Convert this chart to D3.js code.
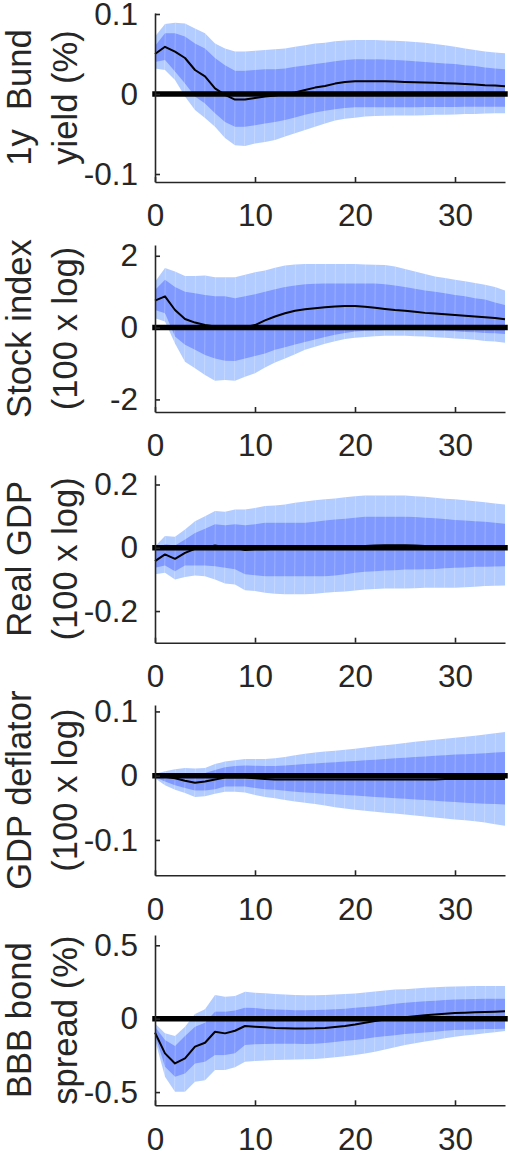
<!DOCTYPE html>
<html>
<head>
<meta charset="utf-8">
<script src="https://cdn.jsdelivr.net/npm/d3@7"></script>
<style>
  html, body { margin: 0; padding: 0; background: #ffffff; }
  svg { display: block; }
  text { font-family: "Liberation Sans", Arial, Helvetica, sans-serif; }
</style>
</head>
<body>
<svg id="chart" width="508" height="1155"></svg>
<script>
// Impulse responses: horizons 0..35, posterior median with 68% (inner) and 90% (outer) bands
const horizon = d3.range(0, 36);
const xTicks = [0, 10, 20, 30];

// 1y Bund yield (%)
const bundMedian = [0.050,0.059,0.053,0.045,0.030,0.022,0.007,-0.001,-0.007,-0.007,-0.005,-0.003,-0.002,0.000,0.002,0.005,0.008,0.010,0.013,0.015,0.016,0.016,0.016,0.016,0.0155,0.015,0.0147,0.0143,0.014,0.0135,0.013,0.0125,0.012,0.011,0.0105,0.0097];
const bundOuterHi = [0.072,0.0875,0.089,0.088,0.082,0.076,0.063,0.057,0.053,0.053,0.054,0.055,0.056,0.057,0.059,0.061,0.063,0.064,0.066,0.067,0.0675,0.0675,0.0675,0.067,0.0667,0.066,0.065,0.064,0.0625,0.061,0.059,0.057,0.055,0.053,0.052,0.051];
const bundInnerHi = [0.060,0.076,0.076,0.072,0.063,0.057,0.045,0.036,0.029,0.029,0.030,0.031,0.031,0.032,0.034,0.0355,0.0375,0.039,0.041,0.0425,0.0433,0.0433,0.0433,0.043,0.0425,0.042,0.041,0.040,0.039,0.038,0.0375,0.036,0.035,0.033,0.032,0.031];
const bundInnerLo = [0.040,0.0425,0.028,0.013,-0.003,-0.012,-0.024,-0.035,-0.041,-0.041,-0.039,-0.037,-0.035,-0.0325,-0.0295,-0.026,-0.023,-0.021,-0.019,-0.0175,-0.0167,-0.0165,-0.0165,-0.0165,-0.0165,-0.0165,-0.0165,-0.0163,-0.0163,-0.0162,-0.0162,-0.016,-0.016,-0.016,-0.016,-0.016];
const bundOuterLo = [0.032,0.030,0.0175,-0.003,-0.020,-0.030,-0.041,-0.055,-0.064,-0.065,-0.062,-0.060,-0.0575,-0.053,-0.049,-0.045,-0.041,-0.037,-0.033,-0.031,-0.0296,-0.028,-0.0275,-0.0273,-0.027,-0.027,-0.0268,-0.0265,-0.026,-0.026,-0.0255,-0.025,-0.025,-0.0245,-0.024,-0.024];
const bundTicks = [-0.1, 0, 0.1];
const bundTickLabels = ["-0.1", "0", "0.1"];
const bundTitle = ["1y  Bund", "yield (%)"];

// Stock index (100 x log)
const stockMedian = [0.75,0.87,0.49,0.24,0.14,0.07,0.03,0.01,0.00,0.01,0.07,0.20,0.31,0.40,0.47,0.51,0.54,0.57,0.59,0.60,0.60,0.58,0.55,0.52,0.49,0.47,0.44,0.41,0.39,0.37,0.35,0.33,0.31,0.29,0.27,0.23];
const stockOuterHi = [1.28,1.66,1.56,1.44,1.44,1.45,1.40,1.40,1.40,1.47,1.54,1.59,1.67,1.73,1.76,1.77,1.77,1.77,1.77,1.77,1.77,1.76,1.75,1.74,1.70,1.63,1.56,1.49,1.42,1.38,1.33,1.29,1.24,1.19,1.13,1.03];
const stockInnerHi = [1.05,1.33,1.13,1.00,0.96,0.91,0.87,0.87,0.82,0.87,0.93,1.00,1.07,1.13,1.17,1.21,1.22,1.23,1.23,1.23,1.23,1.23,1.23,1.21,1.17,1.13,1.08,1.03,1.00,0.96,0.91,0.87,0.82,0.78,0.70,0.63];
const stockInnerLo = [0.49,0.40,-0.25,-0.48,-0.62,-0.76,-0.86,-0.92,-0.93,-0.86,-0.79,-0.72,-0.62,-0.55,-0.47,-0.40,-0.33,-0.26,-0.20,-0.15,-0.11,-0.09,-0.08,-0.07,-0.065,-0.065,-0.065,-0.07,-0.08,-0.09,-0.10,-0.12,-0.13,-0.15,-0.16,-0.18];
const stockOuterLo = [0.26,0.17,-0.44,-0.95,-1.13,-1.32,-1.48,-1.46,-1.48,-1.37,-1.27,-1.11,-0.97,-0.86,-0.74,-0.62,-0.53,-0.45,-0.38,-0.32,-0.28,-0.26,-0.24,-0.23,-0.23,-0.23,-0.24,-0.25,-0.27,-0.28,-0.30,-0.32,-0.34,-0.37,-0.39,-0.42];
const stockTicks = [-2, 0, 2];
const stockTickLabels = ["-2", "0", "2"];
const stockTitle = ["Stock index", "(100 x log)"];

// Real GDP (100 x log)
const gdpMedian = [-0.042,-0.021,-0.035,-0.016,-0.003,0.000,0.007,0.002,0.000,-0.007,-0.005,-0.005,-0.003,-0.003,-0.003,-0.003,-0.003,-0.003,-0.003,0.000,0.003,0.006,0.007,0.008,0.008,0.008,0.007,0.006,0.005,0.004,0.004,0.003,0.003,0.003,0.002,0.002];
const gdpOuterHi = [0.005,0.037,0.035,0.058,0.084,0.100,0.116,0.114,0.121,0.121,0.126,0.132,0.134,0.137,0.142,0.146,0.150,0.153,0.156,0.160,0.163,0.165,0.165,0.165,0.165,0.165,0.163,0.161,0.158,0.155,0.153,0.150,0.147,0.144,0.140,0.137];
const gdpInnerHi = [-0.011,0.011,0.007,0.026,0.047,0.060,0.074,0.071,0.074,0.071,0.074,0.079,0.079,0.079,0.079,0.079,0.082,0.086,0.089,0.092,0.095,0.098,0.098,0.098,0.098,0.098,0.097,0.095,0.093,0.091,0.088,0.086,0.084,0.082,0.079,0.076];
const gdpInnerLo = [-0.063,-0.056,-0.074,-0.056,-0.056,-0.056,-0.058,-0.063,-0.068,-0.084,-0.087,-0.090,-0.090,-0.090,-0.090,-0.090,-0.090,-0.090,-0.088,-0.084,-0.079,-0.076,-0.074,-0.072,-0.071,-0.069,-0.069,-0.068,-0.067,-0.065,-0.063,-0.062,-0.060,-0.060,-0.059,-0.058];
const gdpOuterLo = [-0.084,-0.079,-0.100,-0.092,-0.088,-0.090,-0.100,-0.113,-0.116,-0.134,-0.137,-0.142,-0.145,-0.147,-0.147,-0.147,-0.145,-0.142,-0.140,-0.138,-0.135,-0.132,-0.130,-0.129,-0.129,-0.129,-0.128,-0.126,-0.126,-0.126,-0.126,-0.125,-0.123,-0.121,-0.120,-0.119];
const gdpTicks = [-0.2, 0, 0.2];
const gdpTickLabels = ["-0.2", "0", "0.2"];
const gdpTitle = ["Real GDP", "(100 x log)"];

// GDP deflator (100 x log)
const deflMedian = [0.000,-0.0015,-0.004,-0.008,-0.011,-0.009,-0.006,-0.003,-0.003,-0.003,-0.004,-0.005,-0.006,-0.006,-0.006,-0.006,-0.006,-0.006,-0.006,-0.006,-0.006,-0.006,-0.006,-0.006,-0.006,-0.006,-0.006,-0.006,-0.006,-0.005,-0.005,-0.005,-0.005,-0.005,-0.005,-0.005];
const deflOuterHi = [0.003,0.007,0.010,0.012,0.011,0.012,0.018,0.022,0.024,0.026,0.026,0.026,0.027,0.029,0.032,0.034,0.036,0.0375,0.039,0.0405,0.042,0.044,0.046,0.0475,0.049,0.051,0.053,0.0545,0.056,0.0575,0.059,0.0605,0.062,0.064,0.066,0.068];
const deflInnerHi = [0.000,0.0015,0.0025,0.004,0.004,0.004,0.009,0.013,0.015,0.016,0.0155,0.015,0.015,0.016,0.017,0.018,0.019,0.020,0.021,0.022,0.023,0.024,0.025,0.026,0.027,0.028,0.029,0.030,0.031,0.032,0.033,0.0335,0.034,0.035,0.036,0.037];
const deflInnerLo = [-0.0025,-0.009,-0.015,-0.019,-0.023,-0.023,-0.021,-0.017,-0.017,-0.017,-0.019,-0.021,-0.022,-0.0235,-0.025,-0.026,-0.027,-0.028,-0.029,-0.030,-0.031,-0.032,-0.033,-0.034,-0.035,-0.036,-0.037,-0.038,-0.039,-0.040,-0.041,-0.042,-0.043,-0.0435,-0.044,-0.045];
const deflOuterLo = [-0.004,-0.015,-0.022,-0.027,-0.033,-0.032,-0.028,-0.025,-0.025,-0.026,-0.030,-0.033,-0.035,-0.038,-0.040,-0.042,-0.044,-0.0465,-0.049,-0.051,-0.053,-0.0545,-0.056,-0.0575,-0.059,-0.0605,-0.062,-0.0635,-0.065,-0.0665,-0.068,-0.0695,-0.071,-0.073,-0.0755,-0.078];
const deflTicks = [-0.1, 0, 0.1];
const deflTickLabels = ["-0.1", "0", "0.1"];
const deflTitle = ["GDP deflator", "(100 x log)"];

// BBB bond spread (%)
const spreadMedian = [-0.095,-0.236,-0.305,-0.270,-0.190,-0.164,-0.089,-0.100,-0.082,-0.050,-0.055,-0.059,-0.064,-0.066,-0.067,-0.067,-0.066,-0.063,-0.057,-0.050,-0.040,-0.028,-0.016,-0.006,0.002,0.009,0.016,0.023,0.029,0.034,0.038,0.041,0.043,0.046,0.048,0.050];
const spreadOuterHi = [-0.032,-0.100,-0.118,-0.055,0.032,0.064,0.161,0.150,0.155,0.184,0.177,0.173,0.168,0.164,0.161,0.160,0.160,0.161,0.164,0.168,0.172,0.179,0.186,0.192,0.198,0.200,0.205,0.210,0.214,0.217,0.220,0.221,0.222,0.222,0.222,0.222];
const spreadInnerHi = [-0.055,-0.145,-0.186,-0.118,-0.055,-0.027,0.048,0.048,0.055,0.075,0.072,0.066,0.063,0.060,0.058,0.058,0.059,0.061,0.064,0.068,0.075,0.080,0.085,0.093,0.101,0.109,0.114,0.118,0.122,0.127,0.131,0.133,0.134,0.135,0.136,0.136];
const spreadInnerLo = [-0.111,-0.327,-0.395,-0.373,-0.305,-0.293,-0.248,-0.248,-0.236,-0.180,-0.175,-0.173,-0.170,-0.170,-0.171,-0.172,-0.170,-0.165,-0.158,-0.151,-0.145,-0.136,-0.127,-0.119,-0.112,-0.105,-0.099,-0.094,-0.089,-0.083,-0.077,-0.075,-0.073,-0.071,-0.070,-0.068];
const spreadOuterLo = [-0.145,-0.395,-0.498,-0.498,-0.430,-0.420,-0.350,-0.350,-0.330,-0.293,-0.289,-0.285,-0.282,-0.280,-0.278,-0.277,-0.274,-0.270,-0.263,-0.256,-0.248,-0.237,-0.225,-0.210,-0.195,-0.180,-0.168,-0.156,-0.145,-0.134,-0.123,-0.115,-0.108,-0.100,-0.092,-0.084];
const spreadTicks = [-0.5, 0, 0.5];
const spreadTickLabels = ["-0.5", "0", "0.5"];
const spreadTitle = ["BBB bond", "spread (%)"];

// Panel assembly
const panels = [
  { title: bundTitle,   ticks: bundTicks,   tickLabels: bundTickLabels,   yDomain: [-0.11, 0.10125], med: bundMedian,   oHi: bundOuterHi,   iHi: bundInnerHi,   iLo: bundInnerLo,   oLo: bundOuterLo,   top: 13,  bottom: 182 },
  { title: stockTitle,  ticks: stockTicks,  tickLabels: stockTickLabels,  yDomain: [-2.35, 2.3],     med: stockMedian,  oHi: stockOuterHi,  iHi: stockInnerHi,  iLo: stockInnerLo,  oLo: stockOuterLo,  top: 245, bottom: 412 },
  { title: gdpTitle,    ticks: gdpTicks,    tickLabels: gdpTickLabels,    yDomain: [-0.3, 0.23],      med: gdpMedian,    oHi: gdpOuterHi,    iHi: gdpInnerHi,    iLo: gdpInnerLo,    oLo: gdpOuterLo,    top: 475, bottom: 642.7 },
  { title: deflTitle,   ticks: deflTicks,   tickLabels: deflTickLabels,   yDomain: [-0.155, 0.11],    med: deflMedian,   oHi: deflOuterHi,   iHi: deflInnerHi,   iLo: deflInnerLo,   oLo: deflOuterLo,   top: 705, bottom: 875.3 },
  { title: spreadTitle, ticks: spreadTicks, tickLabels: spreadTickLabels, yDomain: [-0.59, 0.57],     med: spreadMedian, oHi: spreadOuterHi, iHi: spreadInnerHi, iLo: spreadInnerLo, oLo: spreadOuterLo, top: 935, bottom: 1105.3 }
];

const axisColor = "#262626";
const outerColor = "rgb(179,204,255)";
const innerColor = "rgb(128,153,255)";
const tickFont = 31.5;
const titleFont = 34.6;
const left = 155, right = 505;

const svg = d3.select("#chart");
const x = d3.scaleLinear().domain([0, 35]).range([left, right]);

panels.forEach(p => {
  const y = d3.scaleLinear().domain(p.yDomain).range([p.bottom, p.top]);
  const g = svg.append("g");

  // bands drawn one horizon step at a time
  const steps = d3.range(0, horizon.length - 1);
  const band = (lo, hi) => d3.area()
    .x(i => x(horizon[i]))
    .y0(i => y(lo[i]))
    .y1(i => y(hi[i]));

  const outerArea = band(p.oLo, p.oHi);
  const innerArea = band(p.iLo, p.iHi);

  g.append("g").selectAll("path").data(steps).join("path")
    .attr("d", i => outerArea([i, i + 1]))
    .attr("fill", outerColor);
  g.append("g").selectAll("path").data(steps).join("path")
    .attr("d", i => innerArea([i, i + 1]))
    .attr("fill", innerColor);

  // faint seams between steps
  g.append("g").selectAll("line").data(horizon.slice(1, -1)).join("line")
    .attr("x1", t => x(t) + 0.5).attr("x2", t => x(t) - 0.5)
    .attr("y1", t => y(p.oHi[t])).attr("y2", t => y(p.oLo[t]))
    .attr("stroke", "#ffffff").attr("stroke-opacity", 0.28).attr("stroke-width", 0.8);

  // zero line
  g.append("line")
    .attr("x1", x(0)).attr("x2", x(35))
    .attr("y1", y(0)).attr("y2", y(0))
    .attr("stroke", "#000").attr("stroke-width", 5.5)
    .attr("stroke-linecap", "square");

  // median response
  g.append("path")
    .datum(horizon)
    .attr("d", d3.line().x(t => x(t)).y(t => y(p.med[t])))
    .attr("fill", "none").attr("stroke", "#000").attr("stroke-width", 2)
    .attr("stroke-linejoin", "round");

  // y axis
  const yAxis = d3.axisLeft(y)
    .tickValues(p.ticks)
    .tickFormat((d, i) => p.tickLabels[i])
    .tickSizeInner(-5).tickSizeOuter(0).tickPadding(17);
  const ya = g.append("g").attr("transform", `translate(${left},0)`).call(yAxis);

  // x axis
  const xAxis = d3.axisBottom(x)
    .tickValues(xTicks)
    .tickSizeInner(-5).tickSizeOuter(0).tickPadding(22);
  const xa = g.append("g").attr("transform", `translate(0,${p.bottom})`).call(xAxis);

  [ya, xa].forEach(a => {
    a.select(".domain").attr("stroke", axisColor).attr("stroke-width", 1.6);
    a.selectAll(".tick line").attr("stroke", axisColor).attr("stroke-width", 1.6);
    a.selectAll(".tick text")
      .attr("fill", axisColor)
      .style("font-size", tickFont + "px")
      .style("font-family", "'Liberation Sans', Arial, Helvetica, sans-serif");
  });

  // two-line rotated title
  const cy = (p.top + p.bottom) / 2;
  const baselines = [31, 77];
  p.title.forEach((line, k) => {
    svg.append("text")
      .attr("transform", `translate(${baselines[k]},${cy}) rotate(-90)`)
      .attr("text-anchor", "middle")
      .style("white-space", "pre")
      .style("font-size", titleFont + "px")
      .attr("fill", axisColor)
      .text(line);
  });
});
</script>
</body>
</html>
